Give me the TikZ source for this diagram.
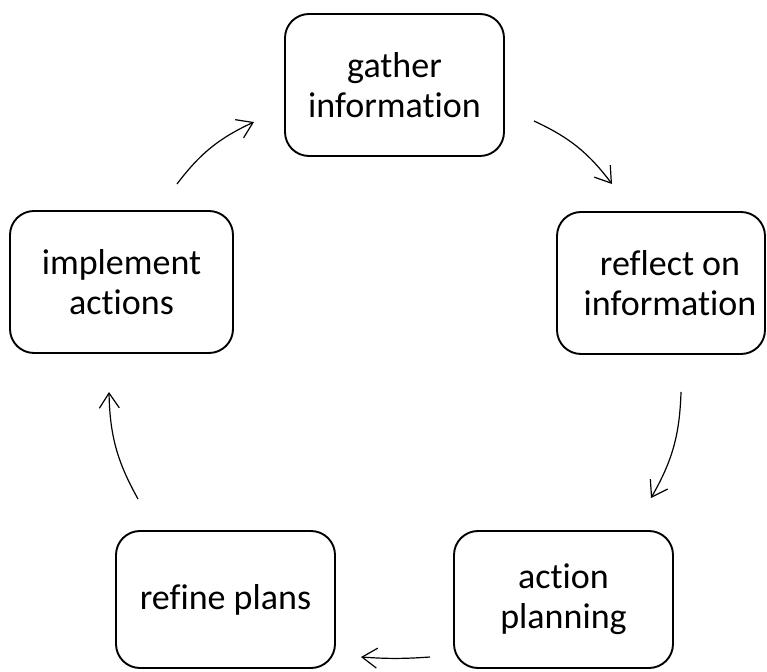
\documentclass[tikz,border=0pt]{standalone}
\usepackage{fontspec}
\setmainfont[Ligatures=NoCommon]{Carlito}
\usetikzlibrary{arrows.meta}
\begin{document}
\begin{tikzpicture}[x=1pt,y=1pt,
  stagebox/.style={draw, line width=1.9pt, rounded corners=24pt, fill=white,
    inner sep=0pt},
  stagetext/.style={align=center, inner sep=0pt, font=\fontsize{36}{40}\selectfont},
  cyclearrow/.style={line width=1.2pt,
    -{Straight Barb[length=15pt,width=20pt,line width=1.2pt]}, bend left=14}]
\useasboundingbox (0,0) rectangle (767,671);
\clip (0,0) rectangle (767,671);
% the five stages of the cycle
\node[stagebox, minimum width=219pt, minimum height=142pt] (gather) at (394.5,586) {};
\node[stagetext] (gathertext) at (gather.center) {gather\\information};
\node[stagebox, minimum width=208pt, minimum height=142pt] (reflect) at (661,388) {};
\node[stagetext] (reflecttext) at (670,388) {reflect on\\information};
\node[stagebox, minimum width=219pt, minimum height=137pt] (plan) at (563.5,71.5) {};
\node[stagetext] (plantext) at (plan.center) {action\\planning};
\node[stagebox, minimum width=219pt, minimum height=137pt] (refine) at (225.5,71.5) {};
\node[stagetext] (refinetext) at (refine.center) {refine plans};
\node[stagebox, minimum width=223pt, minimum height=142pt] (implement) at (121.5,389) {};
\node[stagetext] (implementtext) at (implement.center) {implement\\actions};
% ends of the connecting arrows
\coordinate (a1s) at (534,550); \coordinate (a1e) at (612,487);
\coordinate (a2s) at (681,279); \coordinate (a2e) at (651,173);
\coordinate (a3s) at (430,14);  \coordinate (a3e) at (361,14);
\coordinate (a4s) at (138,172); \coordinate (a4e) at (109,279);
\coordinate (a5s) at (177,487); \coordinate (a5e) at (254,549);
\draw[cyclearrow] (a1s) to (a1e);
\draw[cyclearrow] (a2s) to (a2e);
\draw[cyclearrow, bend left=4] (a3s) to (a3e);
\draw[cyclearrow] (a4s) to (a4e);
\draw[cyclearrow] (a5s) to (a5e);
\end{tikzpicture}
\end{document}
